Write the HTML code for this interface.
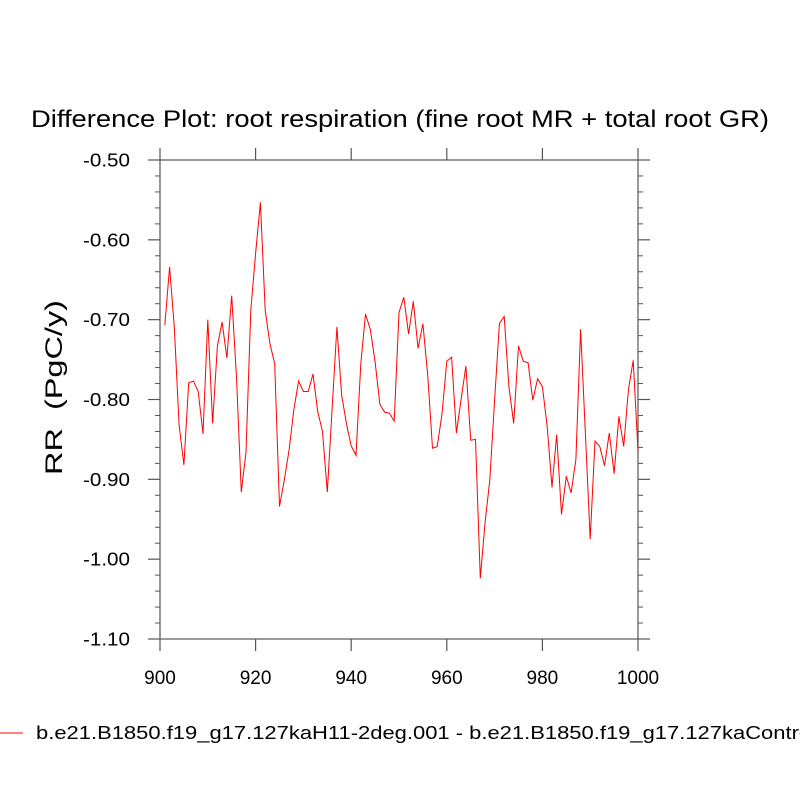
<!DOCTYPE html>
<html><head><meta charset="utf-8"><style>
body{margin:0;background:#fff}
svg text{font-family:"Liberation Sans",sans-serif;fill:#000}
</style></head><body>
<svg id="chart" width="800" height="800" xmlns="http://www.w3.org/2000/svg">
<text x="31" y="127" font-size="24" textLength="738" lengthAdjust="spacingAndGlyphs">Difference Plot: root respiration (fine root MR + total root GR)</text>
<text transform="translate(62,475) rotate(-90)" font-size="24" xml:space="preserve" textLength="175" lengthAdjust="spacingAndGlyphs">RR  (PgC/y)</text>
<g id="axes"></g>
<g id="series"></g>
<line x1="0" y1="733" x2="23" y2="733" stroke="#f00" stroke-width="1"/>
<text x="36" y="739" font-size="18" textLength="780" lengthAdjust="spacingAndGlyphs">b.e21.B1850.f19_g17.127kaH11-2deg.001 - b.e21.B1850.f19_g17.127kaControl</text>
</svg>
<script>
const years=[];for(let y=901;y<=1000;y++)years.push(y);
const values=[-0.707,-0.634,-0.709,-0.832,-0.882,-0.779,-0.777,-0.790,-0.843,-0.700,
-0.830,-0.733,-0.703,-0.748,-0.670,-0.772,-0.916,-0.866,-0.688,-0.617,
-0.553,-0.688,-0.730,-0.755,-0.934,-0.901,-0.863,-0.813,-0.777,-0.790,
-0.790,-0.768,-0.815,-0.840,-0.916,-0.812,-0.709,-0.794,-0.830,-0.858,
-0.870,-0.755,-0.693,-0.712,-0.753,-0.806,-0.816,-0.817,-0.827,-0.691,
-0.672,-0.718,-0.677,-0.736,-0.705,-0.769,-0.861,-0.859,-0.818,-0.752,
-0.747,-0.842,-0.800,-0.758,-0.851,-0.850,-1.024,-0.955,-0.901,-0.801,
-0.705,-0.696,-0.784,-0.830,-0.733,-0.752,-0.754,-0.801,-0.774,-0.784,
-0.834,-0.910,-0.844,-0.944,-0.896,-0.917,-0.875,-0.712,-0.843,-0.975,
-0.852,-0.859,-0.883,-0.842,-0.893,-0.821,-0.859,-0.788,-0.751,-0.864];
const xTicks=[900,920,940,960,980,1000];
const yTicks=[-0.5,-0.6,-0.7,-0.8,-0.9,-1.0,-1.1];
const X0=160,X1=638,Y0=160,Y1=639;
const xs=v=>X0+(v-900)/100*(X1-X0);
const ys=v=>Y0+(-0.5-v)/0.6*(Y1-Y0);
const NS='http://www.w3.org/2000/svg';
const axes=document.getElementById('axes');
function mk(tag,attrs,parent){const e=document.createElementNS(NS,tag);for(const k in attrs)e.setAttribute(k,attrs[k]);parent.appendChild(e);return e;}
const ac='#555';
let l;
l=mk('rect',{x:X0,y:Y0,width:X1-X0,height:Y1-Y0,fill:'none',stroke:ac,'stroke-width':1.2},axes);


xTicks.forEach(t=>{
 const x=xs(t);
 mk('line',{x1:x,y1:Y1,x2:x,y2:Y1+12,stroke:ac,'stroke-width':1.2},axes);
 mk('line',{x1:x,y1:Y0,x2:x,y2:Y0-12,stroke:ac,'stroke-width':1.2},axes);
 const tx=mk('text',{x:x,y:Y1+45,'font-size':19,'text-anchor':'middle'},axes);
 tx.textContent=t;
 
 
});
yTicks.forEach(t=>{
 const y=ys(t);
 mk('line',{x1:X0-12,y1:y,x2:X0,y2:y,stroke:ac,'stroke-width':1.2},axes);
 mk('line',{x1:X1,y1:y,x2:X1+12,y2:y,stroke:ac,'stroke-width':1.2},axes);
 const tx=mk('text',{x:83,y:y+6.5,'font-size':18,textLength:47,lengthAdjust:'spacingAndGlyphs'},axes);
 tx.textContent=t.toFixed(2);
 
 
});
for(let i=0;i<30;i++){
 const v=-0.5-i*0.02;if(i%5===0)continue;
 const y=ys(v);
 mk('line',{x1:X0-5,y1:y,x2:X0,y2:y,stroke:ac,'stroke-width':1},axes);
 mk('line',{x1:X1,y1:y,x2:X1+5,y2:y,stroke:ac,'stroke-width':1},axes);
}
const pts=years.map((yr,i)=>xs(yr).toFixed(1)+','+ys(values[i]).toFixed(1)).join(' ');
const pl=mk('polyline',{points:pts,fill:'none',stroke:'#f00','stroke-width':1},document.getElementById('series'));


</script>
</body></html>
